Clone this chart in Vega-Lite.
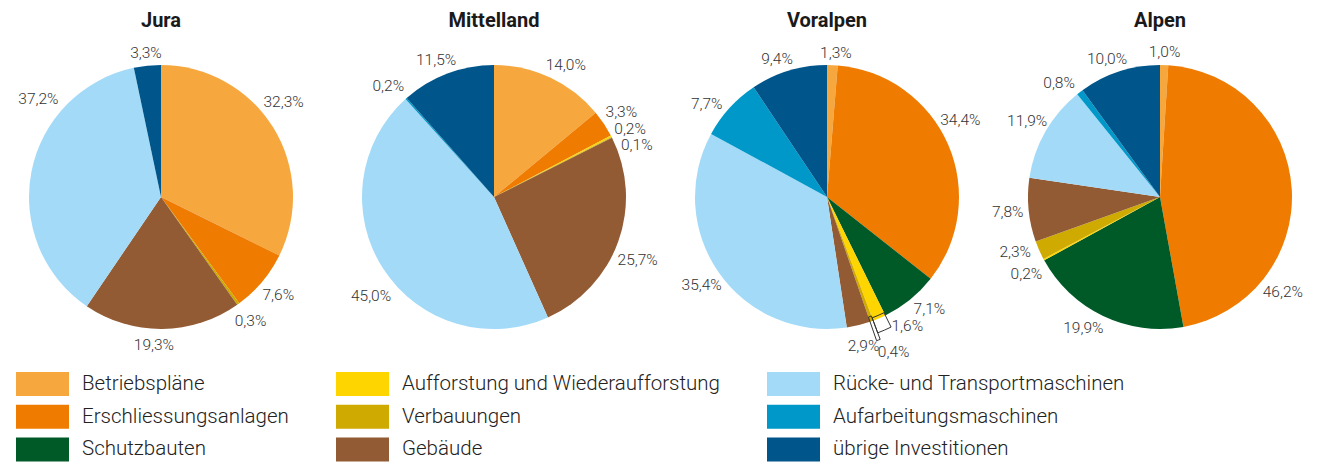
{
  "$schema": "https://vega.github.io/schema/vega-lite/v6.json",
  "padding": {"left": 3, "top": 11, "right": 0, "bottom": 0},
  "bounds": "flush",
  "data": {"values": [
    {"region": "Jura", "cat": "Betriebspläne", "k": 1, "value": 0.323},
    {"region": "Jura", "cat": "Erschliessungsanlagen", "k": 2, "value": 0.076},
    {"region": "Jura", "cat": "Verbauungen", "k": 5, "value": 0.003},
    {"region": "Jura", "cat": "Gebäude", "k": 6, "value": 0.193},
    {"region": "Jura", "cat": "Rücke- und Transportmaschinen", "k": 7, "value": 0.372},
    {"region": "Jura", "cat": "übrige Investitionen", "k": 9, "value": 0.033},
    {"region": "Mittelland", "cat": "Betriebspläne", "k": 1, "value": 0.140},
    {"region": "Mittelland", "cat": "Erschliessungsanlagen", "k": 2, "value": 0.033},
    {"region": "Mittelland", "cat": "Aufforstung und Wiederaufforstung", "k": 4, "value": 0.002},
    {"region": "Mittelland", "cat": "Verbauungen", "k": 5, "value": 0.001},
    {"region": "Mittelland", "cat": "Gebäude", "k": 6, "value": 0.257},
    {"region": "Mittelland", "cat": "Rücke- und Transportmaschinen", "k": 7, "value": 0.450},
    {"region": "Mittelland", "cat": "Aufarbeitungsmaschinen", "k": 8, "value": 0.002},
    {"region": "Mittelland", "cat": "übrige Investitionen", "k": 9, "value": 0.115},
    {"region": "Voralpen", "cat": "Betriebspläne", "k": 1, "value": 0.013},
    {"region": "Voralpen", "cat": "Erschliessungsanlagen", "k": 2, "value": 0.344},
    {"region": "Voralpen", "cat": "Schutzbauten", "k": 3, "value": 0.071},
    {"region": "Voralpen", "cat": "Aufforstung und Wiederaufforstung", "k": 4, "value": 0.016},
    {"region": "Voralpen", "cat": "Verbauungen", "k": 5, "value": 0.004},
    {"region": "Voralpen", "cat": "Gebäude", "k": 6, "value": 0.029},
    {"region": "Voralpen", "cat": "Rücke- und Transportmaschinen", "k": 7, "value": 0.354},
    {"region": "Voralpen", "cat": "Aufarbeitungsmaschinen", "k": 8, "value": 0.077},
    {"region": "Voralpen", "cat": "übrige Investitionen", "k": 9, "value": 0.094},
    {"region": "Alpen", "cat": "Betriebspläne", "k": 1, "value": 0.010},
    {"region": "Alpen", "cat": "Erschliessungsanlagen", "k": 2, "value": 0.462},
    {"region": "Alpen", "cat": "Schutzbauten", "k": 3, "value": 0.199},
    {"region": "Alpen", "cat": "Aufforstung und Wiederaufforstung", "k": 4, "value": 0.002},
    {"region": "Alpen", "cat": "Verbauungen", "k": 5, "value": 0.023},
    {"region": "Alpen", "cat": "Gebäude", "k": 6, "value": 0.078},
    {"region": "Alpen", "cat": "Rücke- und Transportmaschinen", "k": 7, "value": 0.119},
    {"region": "Alpen", "cat": "Aufarbeitungsmaschinen", "k": 8, "value": 0.008},
    {"region": "Alpen", "cat": "übrige Investitionen", "k": 9, "value": 0.100}
  ]},
  "facet": {"column": {"field": "region", "type": "nominal", "sort": ["Jura", "Mittelland", "Voralpen", "Alpen"],
    "header": {"title": null, "labelFont": "Roboto", "labelFontSize": 20, "labelFontWeight": "bold", "labelColor": "#1a1a1a", "labelPadding": 34}}},
  "spacing": 69,
  "spec": {
    "width": 264,
    "height": 264,
    "encoding": {
      "theta": {"field": "value", "type": "quantitative", "stack": "normalize"},
      "order": {"field": "k", "type": "quantitative"},
      "detail": {"field": "cat", "type": "nominal"}
    },
    "layer": [
      {"mark": {"type": "arc", "outerRadius": 132},
       "encoding": {"color": {"field": "cat", "type": "nominal",
         "scale": {"domain": ["Betriebspläne", "Erschliessungsanlagen", "Schutzbauten", "Aufforstung und Wiederaufforstung", "Verbauungen", "Gebäude", "Rücke- und Transportmaschinen", "Aufarbeitungsmaschinen", "übrige Investitionen"],
                   "range": ["#F6A83F", "#EF7C00", "#005A28", "#FFD500", "#CFAA00", "#925B33", "#A3DAF7", "#0097C9", "#00558A"]},
         "legend": {"title": null, "orient": "none", "legendX": -13, "legendY": 307, "columns": 3,
           "symbolType": "M-1,-1H3.417V1H-1Z", "symbolSize": 576, "symbolStrokeWidth": 0, "symbolOpacity": 1,
           "labelFont": "Roboto", "labelFontSize": 20.5, "labelFontWeight": 300, "labelColor": "#222", "labelOffset": 42, "labelLimit": 500,
           "rowPadding": 8.7, "columnPadding": 47}}}},
      {"mark": {"type": "arc", "filled": false, "stroke": "#333333", "strokeWidth": 1, "innerRadius": 129, "outerRadius": 145, "theta2Offset": -0.1003},
       "encoding": {"strokeOpacity": {"condition": {"test": "datum.region + datum.k === 'Voralpen4'", "value": 1}, "value": 0}}},
      {"mark": {"type": "arc", "filled": false, "stroke": "#333333", "strokeWidth": 1, "innerRadius": 127, "outerRadius": 152, "theta2Offset": -0.0251},
       "encoding": {"strokeOpacity": {"condition": {"test": "datum.region + datum.k === 'Voralpen5'", "value": 1}, "value": 0}}},
      {"mark": {"type": "text", "radius": 153},
       "encoding": {"text": {"condition": {"test": "indexof(['Jura1','Jura6','Jura7','Jura9','Mittelland1','Mittelland4','Mittelland5','Mittelland6','Mittelland7','Mittelland8','Mittelland9','Voralpen1','Voralpen2','Voralpen3','Voralpen4','Voralpen5','Voralpen8','Voralpen9','Alpen1','Alpen2','Alpen3','Alpen4','Alpen5','Alpen8','Alpen9'], datum.region + datum.k) < 0", "field": "value", "type": "quantitative", "format": ".1%"}, "value": ""}}},
      {"mark": {"type": "text", "radius": 155, "thetaOffset": -0.102}, "encoding": {"text": {"condition": {"test": "datum.region + datum.k === 'Jura1'", "field": "value", "type": "quantitative", "format": ".1%"}, "value": ""}}},
      {"mark": {"type": "text", "radius": 148, "thetaOffset": 0.057}, "encoding": {"text": {"condition": {"test": "datum.region + datum.k === 'Jura6'", "field": "value", "type": "quantitative", "format": ".1%"}, "value": ""}}},
      {"mark": {"type": "text", "radius": 157, "thetaOffset": 0.48}, "encoding": {"text": {"condition": {"test": "datum.region + datum.k === 'Jura7'", "field": "value", "type": "quantitative", "format": ".1%"}, "value": ""}}},
      {"mark": {"type": "text", "radius": 145, "thetaOffset": 0}, "encoding": {"text": {"condition": {"test": "datum.region + datum.k === 'Jura9'", "field": "value", "type": "quantitative", "format": ".1%"}, "value": ""}}},
      {"mark": {"type": "text", "radius": 150, "thetaOffset": 0.059}, "encoding": {"text": {"condition": {"test": "datum.region + datum.k === 'Mittelland1'", "field": "value", "type": "quantitative", "format": ".1%"}, "value": ""}}},
      {"mark": {"type": "text", "radius": 152, "thetaOffset": 0.016}, "encoding": {"text": {"condition": {"test": "datum.region + datum.k === 'Mittelland4'", "field": "value", "type": "quantitative", "format": ".1%"}, "value": ""}}},
      {"mark": {"type": "text", "radius": 152, "thetaOffset": 0.119}, "encoding": {"text": {"condition": {"test": "datum.region + datum.k === 'Mittelland5'", "field": "value", "type": "quantitative", "format": ".1%"}, "value": ""}}},
      {"mark": {"type": "text", "radius": 157, "thetaOffset": 0.073}, "encoding": {"text": {"condition": {"test": "datum.region + datum.k === 'Mittelland6'", "field": "value", "type": "quantitative", "format": ".1%"}, "value": ""}}},
      {"mark": {"type": "text", "radius": 158, "thetaOffset": -0.101}, "encoding": {"text": {"condition": {"test": "datum.region + datum.k === 'Mittelland7'", "field": "value", "type": "quantitative", "format": ".1%"}, "value": ""}}},
      {"mark": {"type": "text", "radius": 153, "thetaOffset": -0.034}, "encoding": {"text": {"condition": {"test": "datum.region + datum.k === 'Mittelland8'", "field": "value", "type": "quantitative", "format": ".1%"}, "value": ""}}},
      {"mark": {"type": "text", "radius": 149, "thetaOffset": -0.038}, "encoding": {"text": {"condition": {"test": "datum.region + datum.k === 'Mittelland9'", "field": "value", "type": "quantitative", "format": ".1%"}, "value": ""}}},
      {"mark": {"type": "text", "radius": 144, "thetaOffset": 0.021}, "encoding": {"text": {"condition": {"test": "datum.region + datum.k === 'Voralpen1'", "field": "value", "type": "quantitative", "format": ".1%"}, "value": ""}}},
      {"mark": {"type": "text", "radius": 154, "thetaOffset": -0.113}, "encoding": {"text": {"condition": {"test": "datum.region + datum.k === 'Voralpen2'", "field": "value", "type": "quantitative", "format": ".1%"}, "value": ""}}},
      {"mark": {"type": "text", "radius": 152, "thetaOffset": -0.059}, "encoding": {"text": {"condition": {"test": "datum.region + datum.k === 'Voralpen3'", "field": "value", "type": "quantitative", "format": ".1%"}, "value": ""}}},
      {"mark": {"type": "text", "radius": 152, "thetaOffset": -0.149}, "encoding": {"text": {"condition": {"test": "datum.region + datum.k === 'Voralpen4'", "field": "value", "type": "quantitative", "format": ".1%"}, "value": ""}}},
      {"mark": {"type": "text", "radius": 150, "thetaOffset": -0.064, "dx": 7, "dy": 17}, "encoding": {"text": {"condition": {"test": "datum.region + datum.k === 'Voralpen5'", "field": "value", "type": "quantitative", "format": ".1%"}, "value": ""}}},
      {"mark": {"type": "text", "radius": 152, "thetaOffset": -0.082}, "encoding": {"text": {"condition": {"test": "datum.region + datum.k === 'Voralpen8'", "field": "value", "type": "quantitative", "format": ".1%"}, "value": ""}}},
      {"mark": {"type": "text", "radius": 147, "thetaOffset": -0.052}, "encoding": {"text": {"condition": {"test": "datum.region + datum.k === 'Voralpen9'", "field": "value", "type": "quantitative", "format": ".1%"}, "value": ""}}},
      {"mark": {"type": "text", "radius": 145, "thetaOffset": 0}, "encoding": {"text": {"condition": {"test": "datum.region + datum.k === 'Alpen1'", "field": "value", "type": "quantitative", "format": ".1%"}, "value": ""}}},
      {"mark": {"type": "text", "radius": 155, "thetaOffset": 0.714}, "encoding": {"text": {"condition": {"test": "datum.region + datum.k === 'Alpen2'", "field": "value", "type": "quantitative", "format": ".1%"}, "value": ""}}},
      {"mark": {"type": "text", "radius": 152, "thetaOffset": 0.083}, "encoding": {"text": {"condition": {"test": "datum.region + datum.k === 'Alpen3'", "field": "value", "type": "quantitative", "format": ".1%"}, "value": ""}}},
      {"mark": {"type": "text", "radius": 154, "thetaOffset": -0.026}, "encoding": {"text": {"condition": {"test": "datum.region + datum.k === 'Alpen4'", "field": "value", "type": "quantitative", "format": ".1%"}, "value": ""}}},
      {"mark": {"type": "text", "radius": 155, "thetaOffset": 0.05}, "encoding": {"text": {"condition": {"test": "datum.region + datum.k === 'Alpen5'", "field": "value", "type": "quantitative", "format": ".1%"}, "value": ""}}},
      {"mark": {"type": "text", "radius": 152, "thetaOffset": -0.073}, "encoding": {"text": {"condition": {"test": "datum.region + datum.k === 'Alpen8'", "field": "value", "type": "quantitative", "format": ".1%"}, "value": ""}}},
      {"mark": {"type": "text", "radius": 148, "thetaOffset": -0.052}, "encoding": {"text": {"condition": {"test": "datum.region + datum.k === 'Alpen9'", "field": "value", "type": "quantitative", "format": ".1%"}, "value": ""}}}
    ]
  },
  "config": {
    "view": {"stroke": null},
    "locale": {"number": {"decimal": ",", "thousands": "'", "grouping": [3], "currency": ["CHF ", ""]}},
    "text": {"font": "Roboto", "fontSize": 15.5, "fontWeight": 300, "color": "#333333"}
  }
}
